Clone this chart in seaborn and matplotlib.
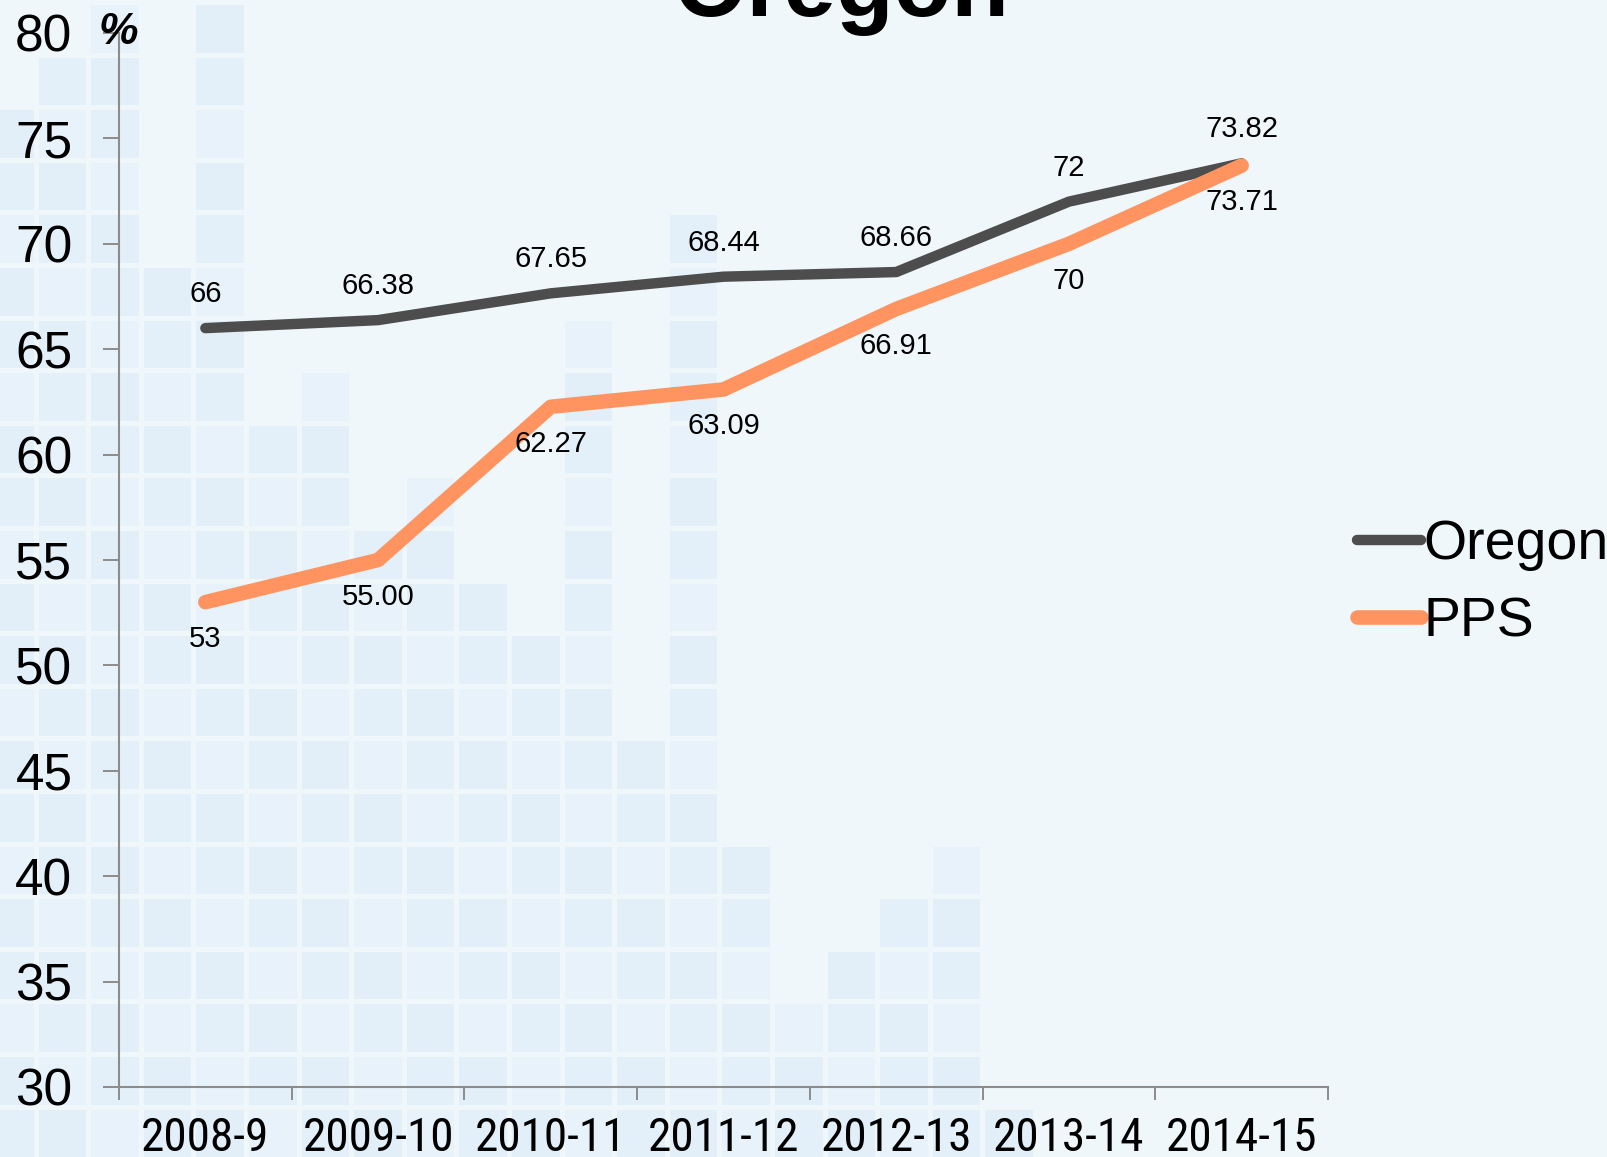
import matplotlib
matplotlib.use("Agg")
import matplotlib.pyplot as plt
from matplotlib.patches import Rectangle
from matplotlib import font_manager
import seaborn as sns
import pandas as pd
import numpy as np

# ---------------- data ----------------
years = ["2008-9", "2009-10", "2010-11", "2011-12", "2012-13", "2013-14", "2014-15"]
oregon = [66, 66.38, 67.65, 68.44, 68.66, 72, 73.82]
pps = [53, 55.00, 62.27, 63.09, 66.91, 70, 73.71]
oregon_labels = ["66", "66.38", "67.65", "68.44", "68.66", "72", "73.82"]
pps_labels = ["53", "55.00", "62.27", "63.09", "66.91", "70", "73.71"]
series_names = ["Oregon", "PPS"]
y_ticks = [30, 35, 40, 45, 50, 55, 60, 65, 70, 75, 80]

# decorative background tiles: first tile row of each column
tile_top_rows = [2, 1, 0, 5, 0, 8, 7, 10, 9, 11, 12, 6, 14, 4, 16, 19, 18, 17, 16, 21]

# ---------------- style ----------------
sns.set_theme(style="white")
plt.rcParams["font.family"] = ["Liberation Sans", "DejaVu Sans"]
plt.rcParams["text.color"] = "black"
plt.rcParams["xtick.color"] = "black"
plt.rcParams["ytick.color"] = "black"

BG = "#EFF7FB"
TILE = ["#E3F0F9", "#E7F2FA", "#E1EEF8"]
C_OR = "#4D4D4D"
C_PPS = "#FF9460"
AXC = "#8C8C8C"

# find a narrow/condensed sans family for the x tick labels
names = sorted({f.name for f in font_manager.fontManager.ttflist})
narrow_name = None
for pref in ["Liberation Sans Narrow", "Arial Narrow", "Roboto Condensed",
             "Open Sans Condensed", "DejaVu Sans Condensed"]:
    if pref in names:
        narrow_name = pref
        break
if narrow_name is None:
    for n in names:
        if "Narrow" in n or "Condensed" in n:
            narrow_name = n
            break
xprops = dict(family=[narrow_name, "DejaVu Sans"]) if narrow_name else dict(family=["Liberation Sans"])
cond_ok = narrow_name is not None

W, H = 1608, 1157
fig = plt.figure(figsize=(W / 100, H / 100), dpi=100)
fig.patch.set_facecolor(BG)

# background tiles
bg = fig.add_axes([0, 0, 1, 1], zorder=-5)
bg.set_xlim(0, W)
bg.set_ylim(H, 0)
bg.axis("off")
pitch = 52.6
for j, top in enumerate(tile_top_rows):
    x0 = -14 + pitch * j
    for r in range(top, 23):
        y0 = 5 + pitch * r
        c = TILE[(j * 2 + r) % 3]
        bg.add_patch(Rectangle((x0, y0), pitch - 5, pitch - 5, facecolor=c,
                               edgecolor="none", alpha=0.9))

# main axes
ax = fig.add_axes([119 / W, 1 - 1087 / H, (1328 - 119) / W, (1087 - 33) / H])
ax.set_facecolor("none")

df = pd.DataFrame({
    "year": years * 2,
    "value": oregon + pps,
    "series": [series_names[0]] * len(years) + [series_names[1]] * len(years),
})
df["pos"] = list(range(len(years))) * 2

sns.lineplot(data=df[df.series == "Oregon"], x="pos", y="value", color=C_OR,
             linewidth=7.5, ax=ax, label="Oregon", solid_capstyle="round",
             solid_joinstyle="round")
sns.lineplot(data=df[df.series == "PPS"], x="pos", y="value", color=C_PPS,
             linewidth=10.5, ax=ax, label="PPS", solid_capstyle="round",
             solid_joinstyle="round")

for i in range(len(years)):
    ax.annotate(oregon_labels[i], (i, oregon[i]), xytext=(0, 24.5),
                textcoords="offset points", ha="center", va="center",
                fontsize=21, color="black")
    ax.annotate(pps_labels[i], (i, pps[i]), xytext=(0, -26.5),
                textcoords="offset points", ha="center", va="center",
                fontsize=21, color="black")

ax.set_xlim(-0.5, len(years) - 0.5)
ax.set_ylim(30, 80)
ax.set_yticks(y_ticks)
ax.set_yticklabels([str(t) for t in y_ticks], fontsize=37)
ax.set_xticks(np.arange(-0.5, len(years), 1.0))
ax.set_xticklabels([])
ax.set_xticks(range(len(years)), minor=True)
ax.set_xticklabels(years, minor=True, fontsize=(34 if cond_ok else 30), **xprops)

ax.tick_params(axis="x", which="major", length=9, width=1.4, color=AXC, direction="out", bottom=True)
ax.tick_params(axis="x", which="minor", length=0, pad=(21 if cond_ok else 23.5), bottom=True)
ax.tick_params(axis="y", which="major", length=11.5, width=1.4, color=AXC, direction="out", pad=22, left=True)
ax.set_xlabel("")
ax.set_ylabel("")
for s in ["top", "right"]:
    ax.spines[s].set_visible(False)
for s in ["left", "bottom"]:
    ax.spines[s].set_color(AXC)
    ax.spines[s].set_linewidth(1.5)
ax.grid(False)

leg = ax.legend(loc="center left", bbox_to_anchor=(1357 / W, 1 - 583.5 / H),
                bbox_transform=fig.transFigure, frameon=False, fontsize=40,
                handlelength=1.15, handletextpad=0.05, labelspacing=0.45,
                borderpad=0, borderaxespad=0)
for lh in leg.get_lines():
    lh.set_solid_capstyle("round")
for t in leg.get_texts():
    t.set_color("black")

fig.text(841 / W, 1 - 16 / H, "Oregon", fontsize=68, weight="bold",
         ha="center", va="baseline", color="black")
fig.text(118 / W, 1 - 33 / H, "%", fontsize=32, weight="bold", style="italic",
         ha="center", va="center", color="black")

fig.savefig("out.png", dpi=100, facecolor=BG)
